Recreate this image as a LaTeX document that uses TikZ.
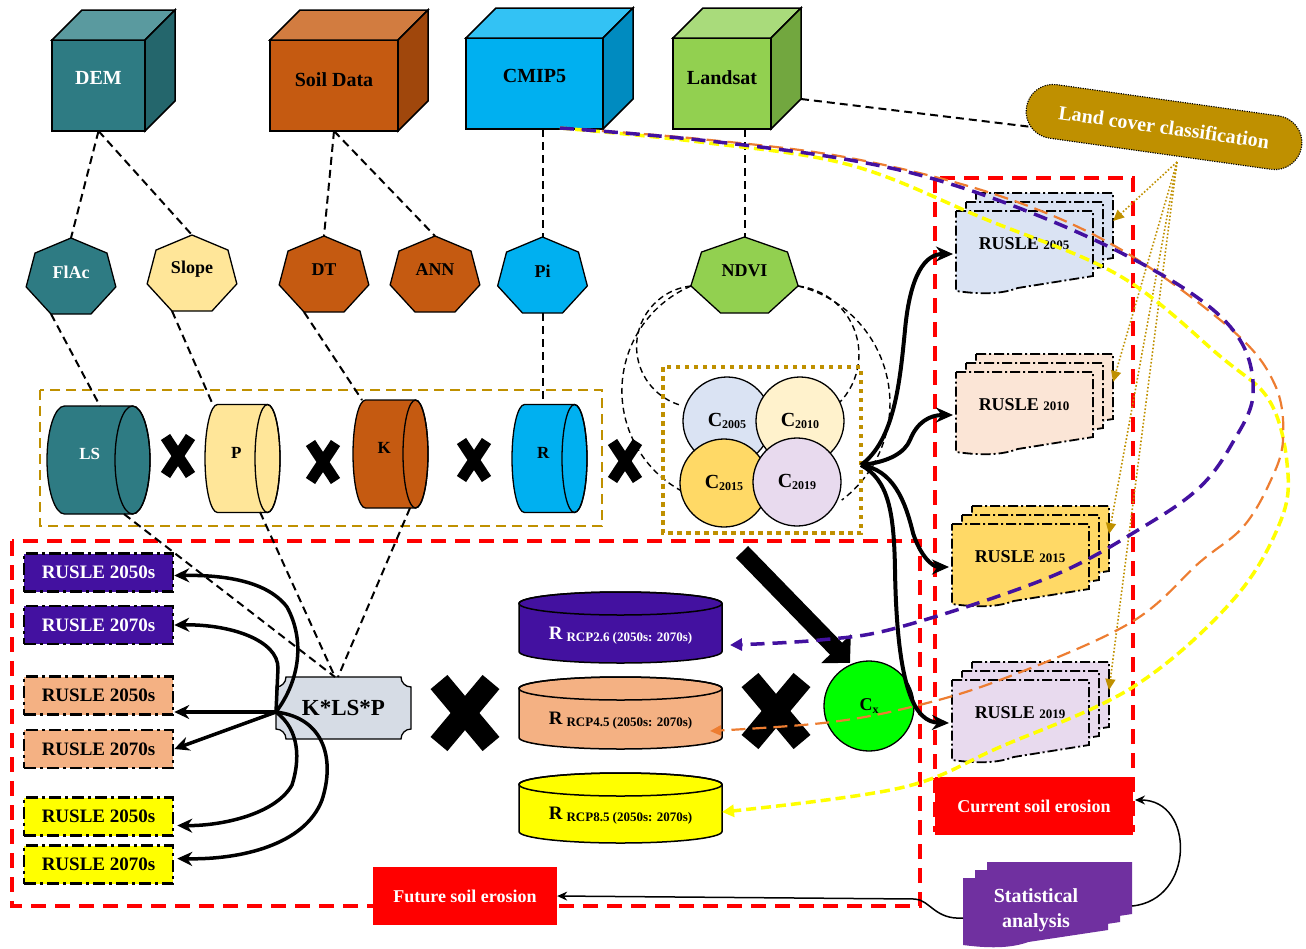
\documentclass[tikz,border=0pt]{standalone}
\usepackage{fontspec}
\setmainfont{Liberation Serif}
\usetikzlibrary{arrows.meta,calc}
\definecolor{tealF}{HTML}{2E7B83}
\definecolor{tealT}{HTML}{5A9A9F}
\definecolor{tealS}{HTML}{24666C}
\definecolor{soilF}{HTML}{C55A11}
\definecolor{soilT}{HTML}{D27C40}
\definecolor{soilS}{HTML}{A0470C}
\definecolor{cmipF}{HTML}{00B0F0}
\definecolor{cmipT}{HTML}{33C2F4}
\definecolor{cmipS}{HTML}{008BC0}
\definecolor{landF}{HTML}{92D050}
\definecolor{landT}{HTML}{A9DB7B}
\definecolor{landS}{HTML}{72A73F}
\definecolor{slopeY}{HTML}{FFE699}
\definecolor{goldc}{HTML}{BF9000}
\definecolor{cA}{HTML}{DAE3F3}
\definecolor{cB}{HTML}{FFF2CC}
\definecolor{cC}{HTML}{FFD966}
\definecolor{cD}{HTML}{E8DAEE}
\definecolor{docB}{HTML}{FBE5D6}
\definecolor{purpc}{HTML}{4311A0}
\definecolor{peachc}{HTML}{F4B183}
\definecolor{oranc}{HTML}{ED7D31}
\definecolor{klspc}{HTML}{D6DCE5}
\definecolor{statc}{HTML}{7030A0}
\definecolor{cxc}{HTML}{00FF00}
\definecolor{yelc}{HTML}{FFFF00}
\definecolor{redc}{HTML}{FF0000}
\newcommand\fsz[1]{\fontsize{#1}{#1}\selectfont}
\newcommand\csub[1]{{\fsz{12}\raisebox{-1.5pt}{#1}}}
\newcommand\rsub[1]{{\fsz{19}R}\hspace{4pt}{\fsz{13}\raisebox{-2pt}{#1}}}
\tikzset{
  cubeline/.style={draw=black,line width=1.5pt},
  thindash/.style={draw=black,line width=2pt,dash pattern=on 8pt off 5pt},
  circdash/.style={draw=black,line width=1.4pt,dash pattern=on 6pt off 4pt},
  reddash/.style={draw=redc,line width=3.5pt,dash pattern=on 15pt off 9pt},
  golddash/.style={draw=goldc,line width=2.5pt,dash pattern=on 10pt off 6pt},
  golddot/.style={draw=goldc,line width=4.5pt,dash pattern=on 4.5pt off 4.5pt},
  docline/.style={draw=black,line width=1.8pt,dash pattern=on 10pt off 3pt on 2pt off 3pt},
  futbox/.style={draw=black,line width=2.5pt,dash pattern=on 12pt off 4pt on 3pt off 4pt,minimum width=149pt,minimum height=38pt,inner sep=0pt,font=\fsz{19}\bfseries},
  xarm/.style={line width=11pt},
  bigxarm/.style={line width=22pt},
  flow/.style={draw=black,line width=4pt,-{Stealth[length=17pt,width=15pt]}},
  futflow/.style={draw=black,line width=3.5pt,-{Stealth[length=15pt,width=14pt]}},
  thinflow/.style={draw=black,line width=1.5pt,-{Stealth[length=10pt,width=9pt]}},
  goldarrow/.style={draw=goldc,line width=1.6pt,dash pattern=on 1.6pt off 2pt,-{Triangle[length=11pt,width=10pt]}},
  ccirc/.style={circle,draw=black,line width=1.3pt,minimum size=88pt,inner sep=0pt,font=\fsz{20}\bfseries},
}
\newcommand\mkcube[9]{%
  \filldraw[fill=#6F,cubeline] (#2,#3) rectangle (#4,#5);
  \filldraw[fill=#6T,cubeline] (#2,#3) -- (#2+30,#3-30) -- (#4+30,#3-30) -- (#4,#3) -- cycle;
  \filldraw[fill=#6S,cubeline] (#4,#3) -- (#4+30,#3-30) -- (#4+30,#5-30) -- (#4,#5) -- cycle;
  \node[text=#7,font=\fsz{20}\bfseries] (#1) at ({(#2+#4)/2},#9) {#8};
  \coordinate (#1-b) at ({(#2+#4)/2},#5);
  \coordinate (#1-sr) at (#4+30,#5-30);
}
\newcommand\mkhept[7]{%
  \filldraw[fill=#5,line width=1.3pt,shift={(#2,#3)}] (-90:#4 and 40) -- (-38.571:#4 and 40) -- (12.857:#4 and 40) -- (64.286:#4 and 40) -- (115.714:#4 and 40) -- (167.143:#4 and 40) -- (218.571:#4 and 40) -- cycle;
  \node[text=#6,font=\fsz{18}\bfseries] (#1) at (#2,#3-6) {#7};
  \coordinate (#1-t) at (#2,#3-40);
  \coordinate (#1-bl) at ({#2-0.434*#4},{#3+36});
  \coordinate (#1-b) at (#2,{#3+36});
}
\newcommand\mkhcyl[8]{%
  \filldraw[fill=#6,line width=1.3pt] (#2+#4,#5-54) arc[start angle=-90,end angle=-270,x radius=#4,y radius=54] -- (#3,#5+54) arc[start angle=90,end angle=-90,x radius=#4,y radius=54] -- cycle;
  \draw[line width=1.3pt] (#3,#5) ellipse[x radius=#4,y radius=54];
  \node[text=#7,font=\fsz{17}\bfseries] (#1) at ({(#2+#3)/2},#5-6) {#8};
}
\newcommand\mkvcyl[7]{%
  \filldraw[fill=#5,line width=1.5pt] (#2-101.5,#3) -- (#2-101.5,#4) arc[start angle=180,end angle=0,x radius=101.5,y radius=11.5] -- (#2+101.5,#3) arc[start angle=0,end angle=-180,x radius=101.5,y radius=11.5] -- cycle;
  \draw[line width=1.5pt] (#2,#3) ellipse[x radius=101.5,y radius=11.5];
  \node[text=#6,font=\bfseries] (#1) at (#2,{(#3+#4)/2+8}) {#7};
}
\newcommand\docshape[6]{%
  \filldraw[fill=#5,#6] (#1,#2) -- (#1+#3,#2) -- (#1+#3,#2+#4-15) -- (#1+0.45*#3,#2+#4-3) .. controls (#1+0.3*#3,#2+#4+5) and (#1+0.11*#3,#2+#4+2) .. (#1,#2+#4) -- cycle;
}
\newcommand\mkdoc[5]{%
  \docshape{#2+20}{#3-18}{137}{80}{#4}{docline}
  \docshape{#2+10}{#3-9}{137}{80}{#4}{docline}
  \docshape{#2}{#3}{137}{80}{#4}{docline}
  \node[font=\fsz{18}\bfseries] (#1) at (#2+68,#3+33) {RUSLE {\fsz{13}#5}};
  \coordinate (#1-w) at (#2-3,#3+43);
  \coordinate (#1-e) at (#2+157,#3+10);
}
\newcommand\xmark[5]{%
  \draw[#5] (#1-#3,#2-#4) -- (#1+#3,#2+#4);
  \draw[#5] (#1+#3,#2-#4) -- (#1-#3,#2+#4);
}
\begin{document}
\begin{tikzpicture}[x=1pt,y=-1pt]
\useasboundingbox (0,0) rectangle (1306,948);
% frames
\draw[reddash] (12,541) rectangle (920,906);
\draw[reddash] (935,178) rectangle (1133,830);
\draw[golddash] (40,390) rectangle (602,526);
% cubes
\mkcube{dem}{52}{40}{145}{131}{teal}{white}{DEM}{78}
\mkcube{soil}{270}{40}{398}{131}{soil}{black}{Soil Data}{80}
\mkcube{cmip}{466}{38}{603}{129}{cmip}{black}{CMIP5}{76}
\mkcube{landsat}{673}{38}{771}{129}{land}{black}{Landsat}{78}
% heptagons
\mkhept{flac}{71}{278}{46}{tealF}{white}{FlAc}
\mkhept{slope}{192}{275}{46}{slopeY}{black}{Slope}
\mkhept{dt}{324}{276}{46}{soilF}{black}{DT}
\mkhept{ann}{435}{276}{46}{soilF}{black}{ANN}
\mkhept{pin}{542.5}{277}{46}{cmipF}{black}{Pi}
\mkhept{ndvi}{744.5}{277}{55}{landF}{black}{NDVI}
% factor cylinders
\mkhcyl{ls}{47}{132.5}{17.5}{460}{tealF}{white}{LS}
\mkhcyl{pc}{205}{267.5}{12.5}{458.5}{slopeY}{black}{P}
\mkhcyl{kc}{353}{415.5}{12.5}{454}{soilF}{black}{K}
\mkhcyl{rc}{512}{574.5}{12.5}{458.5}{cmipF}{black}{R}
\coordinate (ls-t) at (100,406);
\coordinate (ls-b) at (124,514);
\coordinate (pc-t) at (213,405);
\coordinate (pc-b) at (260,512);
\coordinate (kc-t) at (362,400);
\coordinate (kc-b) at (410,508);
\coordinate (rc-t) at (542.5,405);
% top connectors
\draw[thindash] (dem-b) -- (flac-t);
\draw[thindash] (dem-b) -- (slope-t);
\draw[thindash] (soil-b) -- (dt-t);
\draw[thindash] (soil-b) -- (ann-t);
\draw[thindash] (pin-t |- cmip-b) -- (pin-t);
\draw[thindash] (ndvi-t |- landsat-b) -- (ndvi-t);
\draw[thindash] (flac-bl) -- (ls-t);
\draw[thindash] (slope-bl) -- (pc-t);
\draw[thindash] (dt-bl) -- (kc-t);
\draw[thindash] (pin-b) -- (rc-t);
% dashed arcs round the C group
\coordinate (ndvi-l) at (691,286);
\coordinate (ndvi-r) at (798,286);
\draw[circdash] (ndvi-l) arc[start angle=246.8,end angle=117.7,radius=114];
\draw[circdash] (ndvi-l) arc[start angle=263.8,end angle=104.8,radius=61];
\draw[circdash] (ndvi-r) arc[start angle=-76.1,end angle=53,radius=121];
\draw[circdash] (ndvi-r) arc[start angle=-83.3,end angle=45.6,radius=69];
% C group
\draw[golddot] (663,367) rectangle (861,533);
\node[ccirc,fill=cA] (c05) at (727,421) {C\csub{2005}};
\node[ccirc,fill=cB] (c10) at (800,421) {C\csub{2010}};
\node[ccirc,fill=cC] (c15) at (724,483) {C\csub{2015}};
\node[ccirc,fill=cD] (c19) at (797,482) {C\csub{2019}};
\coordinate (cg) at (861,465);
% multiplication signs
\xmark{178}{456}{12.5}{19}{xarm}
\xmark{323}{462}{12.5}{19}{xarm}
\xmark{474}{460}{12.5}{19}{xarm}
\xmark{625}{461}{12.5}{19}{xarm}
\xmark{465}{713}{26}{31}{bigxarm}
\xmark{776}{711}{26}{31}{bigxarm}
% K*LS*P
\filldraw[fill=klspc,line width=1.3pt] (286,677) -- (401,677) arc[start angle=180,end angle=90,radius=10] -- (411,729) arc[start angle=270,end angle=180,radius=10] -- (286,739) arc[start angle=0,end angle=-90,radius=10] -- (276,687) arc[start angle=90,end angle=0,radius=10] -- cycle;
\node[font=\fsz{23}\bfseries] (klsp) at (343.5,708) {K*LS*P};
\coordinate (kl-l) at (276,712);
\coordinate (kl-t) at (335,677);
\draw[thindash] (ls-b) -- (kl-t);
\draw[thindash] (pc-b) -- (kl-t);
\draw[thindash] (kc-b) -- ($(kl-t)+(3,0)$);
% future boxes
\node[futbox,fill=purpc,text=white] (f1) at (98.5,572.5) {RUSLE 2050s};
\node[futbox,fill=purpc,text=white] (f2) at (98.5,625) {RUSLE 2070s};
\node[futbox,fill=peachc] (f3) at (98.5,695.5) {RUSLE 2050s};
\node[futbox,fill=peachc] (f4) at (98.5,749) {RUSLE 2070s};
\node[futbox,fill=yelc] (f5) at (98.5,816.5) {RUSLE 2050s};
\node[futbox,fill=yelc] (f6) at (98.5,864.5) {RUSLE 2070s};
% R scenario cylinders
\mkvcyl{rA}{620.5}{603.5}{651.5}{purpc}{white}{\rsub{RCP2.6 (2050s: 2070s)}}
\mkvcyl{rB}{620.5}{688.5}{737.5}{peachc}{black}{\rsub{RCP4.5 (2050s: 2070s)}}
\mkvcyl{rC}{620.5}{784.5}{831.5}{yelc}{black}{\rsub{RCP8.5 (2050s: 2070s)}}
\coordinate (rA-e) at (730,645);
\coordinate (rB-e) at (710,731);
\coordinate (rC-e) at (722,812);
% Cx
\node[circle,draw=black,line width=1.3pt,fill=cxc,minimum size=90pt,inner sep=0pt] (cx) at (869,706) {{\fsz{18}\bfseries C}{\fsz{12}\bfseries\raisebox{-3pt}{x}}};
\coordinate (big-s) at (742,552);
\coordinate (big-e) at (850,663);
\draw[line width=17pt,-{Triangle[length=20pt,width=40pt]}] (big-s) -- (big-e);
% current RUSLE documents
\mkdoc{d05}{956}{211}{cA}{2005}
\mkdoc{d10}{956}{372}{docB}{2010}
\mkdoc{d15}{952}{524}{cC}{2015}
\mkdoc{d19}{952}{680}{cD}{2019}
% result boxes
\node[fill=redc,minimum width=198pt,minimum height=58pt,inner sep=0pt,text=white,font=\fsz{18}\bfseries] (cur) at (1034,806) {Current soil erosion};
\node[fill=redc,minimum width=184pt,minimum height=58pt,inner sep=0pt,text=white,font=\fsz{18}\bfseries] (fut) at (465,896) {Future soil erosion};
\docshape{987}{862}{145}{67}{statc}{draw=none}
\docshape{975}{870}{145}{67}{statc}{draw=none}
\docshape{963}{878}{145}{67}{statc}{draw=none}
\node[text=white,font=\fontsize{20}{25}\selectfont\bfseries,align=center] (stat) at (1036,910) {Statistical\\analysis};
\coordinate (stat-l) at (963,918);
\coordinate (stat-r) at (1132,906);
\coordinate (cur-r) at (1135,800);
\draw[thinflow] (stat-r) .. controls (1195,900) and (1195,800) .. (cur-r);
\draw[thinflow] (stat-l) .. controls (935,920) and (930,900) .. (915,899) -- (fut.east);
% flows from C group
\draw[flow] (cg) .. controls (895,440) and (900,380) .. (905,330) .. controls (910,275) and (925,254) .. (d05-w);
\draw[flow] (cg) .. controls (890,462) and (905,452) .. (910,440) .. controls (917,422) and (930,415) .. (d10-w);
\draw[flow] (cg) .. controls (893,470) and (905,500) .. (913,533) .. controls (920,555) and (932,567) .. (d15-w);
\draw[flow] (cg) .. controls (888,480) and (894,510) .. (895,570) .. controls (897,690) and (915,722) .. (d19-w);
% flows from K*LS*P
\draw[futflow] (kl-l) .. controls (300,680) and (305,640) .. (287,607) .. controls (265,578) and (215,575) .. ($(f1.east)+(0,3)$);
\draw[futflow] (kl-l) -- (278,668) .. controls (278,640) and (230,624) .. (f2.east);
\draw[futflow] (kl-l) -- (kl-l -| f3.east);
\draw[futflow] (kl-l) -- (f4.east);
\draw[futflow] (kl-l) .. controls (300,730) and (300,760) .. (292,785) .. controls (275,815) and (220,826) .. ($(f5.east)+(3,9)$);
\draw[futflow] (kl-l) .. controls (325,718) and (335,760) .. (322,800) .. controls (305,845) and (240,860) .. ($(f6.east)+(3,-6)$);
% land cover classification
\node[draw=black,line width=1.1pt,dash pattern=on 1.2pt off 1.2pt,fill=goldc,rounded corners=27pt,minimum width=278pt,minimum height=54pt,inner sep=0pt,rotate=-8,text=white,font=\fsz{20}\bfseries] (lc) at (1164,127) {Land cover classification};
\coordinate (lcin) at (1032,127);
\coordinate (lcb) at (1177,162);
\draw[thindash] (landsat-sr) -- (lcin);
\draw[goldarrow] (lcb) -- (d05-e);
\draw[goldarrow] (lcb) -- (d10-e);
\draw[goldarrow] (lcb) -- (d15-e);
\draw[goldarrow] (lcb) -- (d19-e);
% climate scenario curves
\coordinate (cmipc) at (560,128);
\draw[yelc,line width=3.5pt,dash pattern=on 10pt off 5pt,-{Triangle[length=12pt,width=12pt]}] plot[smooth,tension=0.6] coordinates {(cmipc) (700,142) (850,165) (985,219) (1120,276) (1221,357) (1269,400) (1287,463) (1281,520) (1233,600) (1133,687) (1000,747) (900,788) (rC-e)};
\draw[oranc,line width=2.2pt,dash pattern=on 14pt off 7pt,-{Triangle[length=11pt,width=10pt]}] plot[smooth,tension=0.6] coordinates {(cmipc) (700,139) (850,158) (1000,196) (1120,249) (1232,330) (1275,385) (1283,440) (1270,482) (1243,527) (1200,562) (1130,623) (1000,680) (907,708) (823,723) (rB-e)};
\draw[purpc,line width=3.5pt,dash pattern=on 14pt off 8pt,-{Triangle[length=12pt,width=12pt]}] plot[smooth,tension=0.6] coordinates {(cmipc) (700,140) (850,160) (960,187) (1086,236) (1188,291) (1240,340) (1253,395) (1233,442) (1200,487) (1143,527) (1050,577) (900,627) (820,640) (rA-e)};
\end{tikzpicture}
\end{document}
